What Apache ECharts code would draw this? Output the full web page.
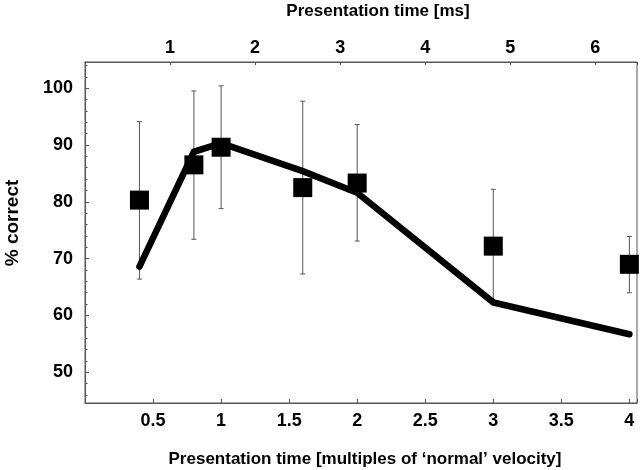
<!DOCTYPE html>
<html><head><meta charset="utf-8">
<script src="https://cdn.jsdelivr.net/npm/echarts@6/dist/echarts.min.js"></script>
<style>html,body{margin:0;padding:0;background:#fff}#c{width:640px;height:470px}</style>
</head><body><div id="c"></div>
<script>
// Data
const velocityMultiples = [0.4, 0.8, 1, 1.6, 2, 3, 4];
const meanCorrect = [80.3, 86.5, 89.6, 82.5, 83.3, 72.2, 69.0];
const errLow = [66.4, 73.4, 78.8, 67.3, 73.1, 62.4, 64.0];
const errHigh = [94.1, 99.5, 100.4, 97.7, 93.6, 82.2, 73.9];
const modelCorrect = [68.6, 88.8, 90.3, 85.4, 81.6, 62.3, 56.7];
const bottomAxisRange = [0, 4.056];
const topAxisRange = [0, 6.49];
const yAxisRange = [44.6, 104.6];
const topTitle = 'Presentation time [ms]';
const bottomTitle = 'Presentation time [multiples of \u2018normal\u2019 velocity]';
const yTitle = '% correct';

const FONT = 'Liberation Sans, Arial, Helvetica, sans-serif';
const AX = '#555';
const TICK_FS = 18;
const chart = echarts.init(document.getElementById('c'), null, {renderer: 'canvas'});

function isMultiple(v, step) {
  return Math.abs(v / step - Math.round(v / step)) < 1e-6;
}

chart.setOption({
  animation: false,
  backgroundColor: '#fff',
  grid: {left: 85, right: 1, top: 62, bottom: 67, show: true, borderColor: AX, borderWidth: 1, backgroundColor: 'transparent'},
  xAxis: [
    {
      type: 'value', position: 'bottom', min: bottomAxisRange[0], max: bottomAxisRange[1], interval: 0.5,
      axisLine: {show: true, lineStyle: {color: AX, width: 1}},
      axisTick: {show: true, inside: true, length: 4, lineStyle: {color: AX}},
      splitLine: {show: false},
      axisLabel: {
        margin: 9, color: '#000', fontFamily: FONT, fontSize: TICK_FS, fontWeight: 'bold',
        showMinLabel: false, showMaxLabel: true,
        formatter: v => (v > 0 && isMultiple(v, 0.5)) ? String(v) : ''
      }
    },
    {
      type: 'value', position: 'top', min: topAxisRange[0], max: topAxisRange[1], interval: 1,
      axisLine: {show: true, lineStyle: {color: AX, width: 1}},
      axisTick: {show: true, inside: true, length: 3, lineStyle: {color: AX}},
      splitLine: {show: false},
      axisLabel: {
        margin: 5, color: '#000', fontFamily: FONT, fontSize: TICK_FS, fontWeight: 'bold',
        formatter: v => (v > 0 && isMultiple(v, 1)) ? String(v) : ''
      }
    }
  ],
  yAxis: [{
    type: 'value', min: yAxisRange[0], max: yAxisRange[1], splitNumber: 6,
    axisLine: {show: true, lineStyle: {color: AX, width: 1}},
    axisTick: {show: true, inside: true, length: 4, lineStyle: {color: AX}},
    minorTick: {show: true, splitNumber: 5, length: 2.5, lineStyle: {color: AX}},
    splitLine: {show: false},
    axisLabel: {
      margin: 12, color: '#000', fontFamily: FONT, fontSize: TICK_FS, fontWeight: 'bold',
      formatter: v => isMultiple(v, 10) ? String(Math.round(v)) : ''
    }
  }],
  graphic: [
    {type: 'text', x: 378, y: 11, style: {text: topTitle, fill: '#000', font: 'bold 17px ' + FONT, align: 'center', verticalAlign: 'middle'}},
    {type: 'text', x: 365, y: 459, style: {text: bottomTitle, fill: '#000', font: 'bold 17px ' + FONT, align: 'center', verticalAlign: 'middle'}},
    {type: 'text', x: 13, y: 223, rotation: Math.PI / 2, style: {text: yTitle, fill: '#000', font: 'bold 19px ' + FONT, align: 'center', verticalAlign: 'middle'}}
  ],
  series: [
    {
      type: 'custom', xAxisIndex: 0, yAxisIndex: 0, z: 1,
      data: velocityMultiples.map((x, i) => [x, errLow[i], errHigh[i]]),
      renderItem: function (params, api) {
        const lo = api.coord([api.value(0), api.value(1)]);
        const hi = api.coord([api.value(0), api.value(2)]);
        const w = 2.5;
        const st = {stroke: '#555', lineWidth: 1};
        return {type: 'group', children: [
          {type: 'line', shape: {x1: lo[0], y1: lo[1], x2: hi[0], y2: hi[1]}, style: st},
          {type: 'line', shape: {x1: lo[0] - w, y1: lo[1], x2: lo[0] + w, y2: lo[1]}, style: st},
          {type: 'line', shape: {x1: hi[0] - w, y1: hi[1], x2: hi[0] + w, y2: hi[1]}, style: st}
        ]};
      }
    },
    {
      type: 'line', xAxisIndex: 0, yAxisIndex: 0, z: 2,
      data: velocityMultiples.map((x, i) => [x, modelCorrect[i]]),
      showSymbol: false, symbol: 'none',
      lineStyle: {color: '#000', width: 6.5, cap: 'round', join: 'miter'}
    },
    {
      type: 'scatter', xAxisIndex: 0, yAxisIndex: 0, z: 3,
      data: velocityMultiples.map((x, i) => [x, meanCorrect[i]]),
      symbol: 'rect', symbolSize: 19,
      itemStyle: {color: '#000', opacity: 1}
    }
  ]
});
</script></body></html>
